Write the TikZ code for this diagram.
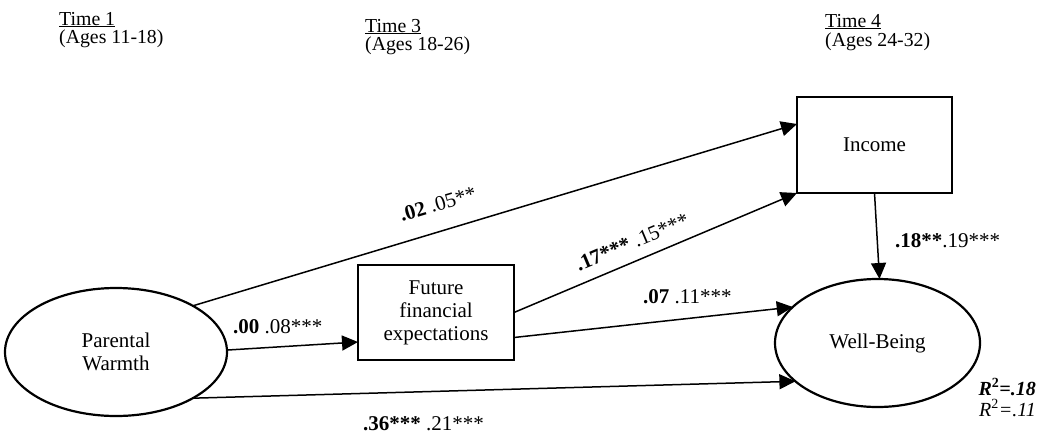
\documentclass[tikz,border=0pt]{standalone}
\usepackage{fontspec}
\setmainfont{Liberation Serif}
\usetikzlibrary{shapes.geometric,arrows.meta,calc}
\tikzset{
  shapeline/.style={draw=black, line width=2.2pt},
  oval/.style={shapeline, ellipse, inner sep=0pt, outer sep=0pt, align=center, font=\fontsize{21}{23}\selectfont},
  boxnode/.style={shapeline, rectangle, inner sep=0pt, outer sep=0pt, align=center, font=\fontsize{21}{23}\selectfont},
  path/.style={draw=black, line width=1.5pt, -{Triangle[length=16pt,width=15pt]}},
  lbl/.style={inner sep=0pt, font=\fontsize{21}{23}\selectfont},
  rlbl/.style={inner sep=0pt, font=\fontsize{20}{22}\selectfont},
  head/.style={inner sep=0pt, anchor=base west, font=\fontsize{19.8}{21}\selectfont}
}
\begin{document}
\begin{tikzpicture}[x=1pt,y=-1pt]
\useasboundingbox (0,0) rectangle (1038,434);
% headings
\node[head] (t1) at (59,25) {\underline{Time 1}};
\node[head] (a1) at (59,43) {(Ages 11-18)};
\node[head] (t3) at (365,32) {\underline{Time 3}};
\node[head] (a3) at (365,50) {(Ages 18-26)};
\node[head] (t4) at (825,27) {\underline{Time 4}};
\node[head] (a4) at (825,46) {(Ages 24-32)};
% nodes
\node[oval, minimum width=222pt, minimum height=128pt] (pw) at (116,352) {Parental\\Warmth};
\node[boxnode, minimum width=156pt, minimum height=95pt] (ffe) at (436,312.5) {Future\\financial\\expectations};
\node[boxnode, minimum width=155pt, minimum height=96pt] (inc) at (874.5,145) {Income};
\node[oval, minimum width=205pt, minimum height=128pt] (wb) at (877.5,343) {Well-Being};
% paths
\draw[path] (pw.31) -- ([yshift=21pt]inc.west);
\draw[path] (pw.1.5) -- ([yshift=-29.5pt]ffe.west);
\draw[path] (pw.-31) -- (wb.205);
\draw[path] (ffe.east) -- (inc.south west);
\draw[path] ([yshift=-25pt]ffe.east) -- (wb.157);
\draw[path] (inc.south) -- ([xshift=2pt]wb.north);
% labels
\node[lbl, anchor=base west, rotate=16.7] (l1) at (402,222) {\textbf{.02} .05**};
\node[lbl, anchor=base west] (l2) at (233,333) {\textbf{.00} .08***};
\node[lbl, anchor=base west] (l3) at (363,430) {\textbf{.36***} .21***};
\node[lbl, anchor=base west, rotate=22.9] (l4) at (579,272) {\textbf{.17***} .15***};
\node[lbl, anchor=base west] (l5) at (643,303) {\textbf{.07} .11***};
\node[lbl, anchor=base west] (l6) at (895,247) {\textbf{.18**}.19***};
\node[rlbl, anchor=base east] (r1) at (1036,395) {\textbf{\textit{R}\textsuperscript{2}\textit{=.18}}};
\node[rlbl, anchor=base east] (r2) at (1036,416) {\textit{R}\textsuperscript{2}\textit{=.11}};
\end{tikzpicture}
\end{document}
